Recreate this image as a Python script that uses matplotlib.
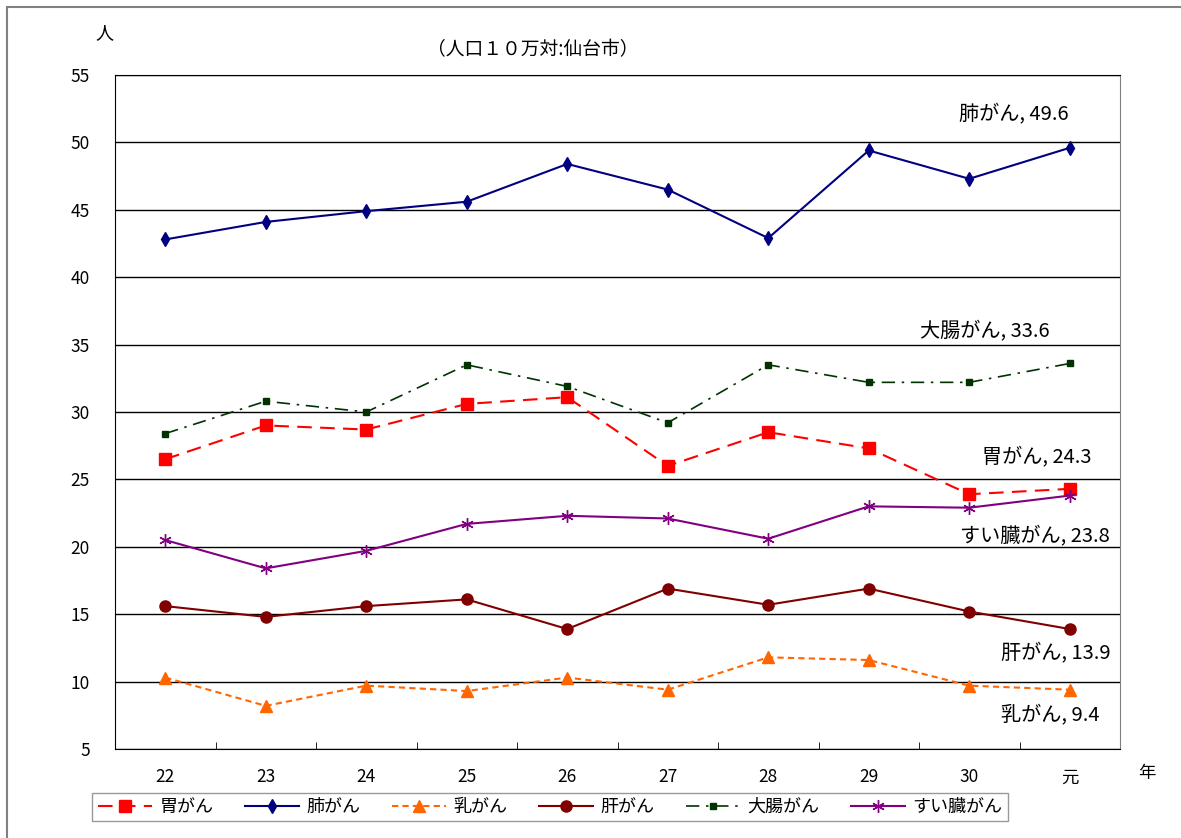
import numpy as np
import matplotlib
matplotlib.use('Agg')
import matplotlib.pyplot as plt
from matplotlib.patches import Rectangle

plt.rcParams['font.family'] = ['Noto Sans CJK JP', 'DejaVu Sans']

years = ['22', '23', '24', '25', '26', '27', '28', '29', '30', '元']

stomach = [26.5, 29.0, 28.7, 30.6, 31.1, 26.0, 28.5, 27.3, 23.9, 24.3]
lung = [42.8, 44.1, 44.9, 45.6, 48.4, 46.5, 42.9, 49.4, 47.3, 49.6]
breast = [10.3, 8.2, 9.7, 9.3, 10.3, 9.4, 11.8, 11.6, 9.7, 9.4]
liver = [15.6, 14.8, 15.6, 16.1, 13.9, 16.9, 15.7, 16.9, 15.2, 13.9]
colon = [28.4, 30.8, 30.0, 33.5, 31.9, 29.2, 33.5, 32.2, 32.2, 33.6]
pancreas = [20.5, 18.4, 19.7, 21.7, 22.3, 22.1, 20.6, 23.0, 22.9, 23.8]

names = ['胃がん', '肺がん', '乳がん', '肝がん', '大腸がん', 'すい臓がん']

W, H = 1181, 838
fig = plt.figure(figsize=(W / 100, H / 100), dpi=100)
ax = fig.add_axes([115/W, 89/H, 1005/W, 674/H])

x = np.arange(len(years))

ax.plot(x, stomach, color='#FF0000', ls=(0, (7, 4)), lw=1.5, marker='s', ms=8, label=names[0])
ax.plot(x, lung, color='#000080', ls='-', lw=1.5, marker='d', ms=7, label=names[1])
ax.plot(x, breast, color='#FF6600', ls=(0, (3, 2)), lw=1.5, marker='^', ms=8, label=names[2])
ax.plot(x, liver, color='#800000', ls='-', lw=1.5, marker='o', ms=8, label=names[3])
ax.plot(x, colon, color='#003300', ls=(0, (8, 4, 1.5, 4)), lw=1.2, marker='s', ms=5, label=names[4])
ax.plot(x, pancreas, color='#800080', ls='-', lw=1.5, marker=(6, 2, 0), ms=9, mew=1, label=names[5])

ax.set_xlim(-0.5, 9.5)
ax.set_ylim(5, 55)
ax.set_yticks(np.arange(5, 56, 5))
ax.set_xticks(x)
ax.set_xticklabels(years)
ax.set_xticks(np.arange(0.5, 9, 1), minor=True)
ax.tick_params(axis='x', which='major', length=0, pad=14, labelsize=12.5)
ax.tick_params(axis='x', which='minor', length=5, direction='in')
ax.tick_params(axis='y', length=0, pad=18, labelsize=12.5)
ax.grid(axis='y', color='black', lw=1)
ax.set_axisbelow(True)
for s in ['left', 'top', 'bottom']:
    ax.spines[s].set_color('black')
ax.spines['right'].set_color('#808080')

# series labels (pixel centres)
fs = 14.5
labels = [('肺がん, 49.6', 1014, 115), ('大腸がん, 33.6', 985, 332),
          ('胃がん, 24.3', 1037, 458), ('すい臓がん, 23.8', 1035, 537),
          ('肝がん, 13.9', 1056, 654), ('乳がん, 9.4', 1050, 716)]
for t, px, py in labels:
    fig.text(px / W, 1 - py / H, t, ha='center', va='center', fontsize=fs)

fig.text(104/W, 1 - 33/H, '人', ha='center', va='center', fontsize=13)
fig.text(533/W, 1 - 50/H, '（人口１０万対:仙台市）', ha='center', va='center', fontsize=13.5)
fig.text(1147/W, 1 - 773/H, '年', ha='center', va='center', fontsize=12.5)

leg = fig.legend(loc='center', bbox_to_anchor=(550/W, 1 - 807/H), ncol=6,
                 fontsize=13, frameon=True, fancybox=False, edgecolor='#808080',
                 handlelength=3, columnspacing=1.75, borderpad=0.3, handletextpad=0.4)
leg.get_frame().set_linewidth(1)

fig.patches.append(Rectangle((7/W, -0.5), 2, 0.5 + 1 - 7/H, transform=fig.transFigure,
                             fill=False, edgecolor='#808080', lw=1.5))

fig.savefig('out.png', dpi=100)
